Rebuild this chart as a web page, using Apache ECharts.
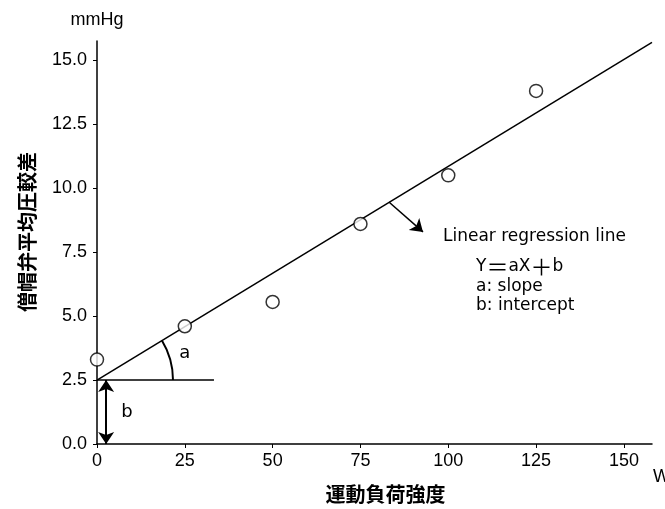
<!DOCTYPE html>
<html><head><meta charset="utf-8">
<script src="https://cdn.jsdelivr.net/npm/echarts@6/dist/echarts.min.js"></script>
<style>html,body{margin:0;padding:0;background:#fff}#c{width:665px;height:509px}</style>
</head><body><div id="c"></div>
<script>
const loads = [0, 25, 50, 75, 100, 125];
const gradients = [3.3, 4.6, 5.55, 8.6, 10.5, 13.8];
const xTicks = [0, 25, 50, 75, 100, 125, 150];
const yTicks = [0, 2.5, 5, 7.5, 10, 12.5, 15];
const regression = [[0, 2.5], [158, 15.7]];
const baseline = [[0, 2.5], [33.3, 2.5]];
const interceptArrow = [[2.6, 2.5], [2.6, 0]];
const pointerArrow = [[83.1, 9.46], [92.8, 8.29]];
const noteTexts = ['Linear regression line', 'Y＝aX＋b', 'a: slope', 'b: intercept'];
const notePos = [[98.5, 8.1], [107.9, 6.95], [107.9, 6.15], [107.9, 5.4]];
const letterLabels = ['a', 'b'];
const letterPos = [[25, 3.55], [8.5, 1.25]];

const chart = echarts.init(document.getElementById('c'));
const latin = 'Liberation Sans, Arial, Noto Sans CJK JP, sans-serif';
const jp = 'Noto Sans CJK JP, sans-serif';
const points = loads.map((x, i) => [x, gradients[i]]);
// wrap full-width symbols in a rich-text style so they render wide
const richify = s => s.replace(/([＝＋])/g, '{w|$1}');

chart.setOption({
  animation: false,
  backgroundColor: '#fff',
  title: { text: 'W', left: 653, top: 468, padding: 0,
    textStyle: { fontFamily: latin, fontSize: 18, fontWeight: 'normal', color: '#000' } },
  grid: { left: 97, right: 13, top: 41, bottom: 62 },
  xAxis: {
    type: 'value', min: 0, max: 158,
    name: '運動負荷強度', nameLocation: 'middle', nameGap: 40,
    nameTextStyle: { fontFamily: jp, fontSize: 20, fontWeight: 'bold', color: '#000', padding: [0, 0, 0, 22] },
    axisLine: { lineStyle: { color: '#000', width: 1.5 } },
    axisTick: { show: true, customValues: xTicks, length: 4, lineStyle: { color: '#000', width: 1 } },
    axisLabel: { customValues: xTicks, color: '#000', fontSize: 18, fontFamily: latin, margin: 8 },
    splitLine: { show: false }
  },
  yAxis: {
    type: 'value', min: 0, max: 15.75,
    name: 'mmHg', nameLocation: 'end', nameGap: 12,
    nameTextStyle: { fontFamily: latin, fontSize: 18, color: '#000' },
    axisLine: { show: true, lineStyle: { color: '#000', width: 1.5 } },
    axisTick: { show: true, customValues: yTicks, length: 4, lineStyle: { color: '#000', width: 1 } },
    axisLabel: { customValues: yTicks, color: '#000', fontSize: 18, fontFamily: latin, margin: 10,
      formatter: v => v.toFixed(1) },
    splitLine: { show: false }
  },
  graphic: [{
    type: 'text', left: 17, top: 152,
    style: { text: '僧帽弁平均圧較差', font: 'bold 20px Noto Sans CJK JP', fill: '#000' },
    rotation: Math.PI / 2, originX: 0, originY: 0
  }],
  series: [
    { type: 'line', data: regression, symbol: 'none', lineStyle: { color: '#000', width: 1.5 }, z: 2 },
    { type: 'line', data: baseline, symbol: 'none', lineStyle: { color: '#000', width: 1.5 }, z: 2 },
    { type: 'scatter', data: points, symbol: 'circle', symbolSize: 13,
      itemStyle: { color: '#fff', borderColor: '#000', borderWidth: 1.5 }, z: 5 },
    { type: 'lines', coordinateSystem: 'cartesian2d', z: 4,
      data: [{ coords: interceptArrow }], symbol: ['arrow', 'arrow'], symbolSize: 12,
      lineStyle: { color: '#000', width: 2, opacity: 1 } },
    { type: 'lines', coordinateSystem: 'cartesian2d', z: 4,
      data: [{ coords: pointerArrow }], symbol: ['none', 'arrow'], symbolSize: 12,
      lineStyle: { color: '#000', width: 1.5, opacity: 1 } },
    { type: 'custom', coordinateSystem: 'cartesian2d', data: [regression[0]], z: 3,
      renderItem: (params, api) => {
        const c = api.coord(regression[0]);
        const p = api.coord(regression[1]);
        const ang = Math.atan2(p[1] - c[1], p[0] - c[0]);
        return { type: 'arc', shape: { cx: c[0], cy: c[1], r: 76, startAngle: ang, endAngle: 0 },
          style: { stroke: '#000', lineWidth: 2, fill: null } };
      } },
    { type: 'custom', coordinateSystem: 'cartesian2d', z: 6,
      data: notePos.map((p, i) => [p[0], p[1], i]),
      renderItem: (params, api) => {
        const i = api.value(2);
        const c = api.coord([api.value(0), api.value(1)]);
        return { type: 'text', x: c[0], y: c[1],
          style: { text: richify(noteTexts[i]), fontFamily: 'DejaVu Sans, Noto Sans CJK JP', fontSize: 17,
            fill: '#000', verticalAlign: 'middle', align: 'left',
            rich: { w: { fontFamily: 'Noto Sans CJK JP', fontSize: 22, fill: '#000' } } } };
      } },
    { type: 'custom', coordinateSystem: 'cartesian2d', z: 6,
      data: letterPos.map((p, i) => [p[0], p[1], i]),
      renderItem: (params, api) => {
        const i = api.value(2);
        const c = api.coord([api.value(0), api.value(1)]);
        return { type: 'text', x: c[0], y: c[1],
          style: { text: letterLabels[i], fontFamily: 'DejaVu Sans', fontSize: 18,
            fill: '#000', verticalAlign: 'middle', align: 'center' } };
      } }
  ]
});
</script></body></html>
